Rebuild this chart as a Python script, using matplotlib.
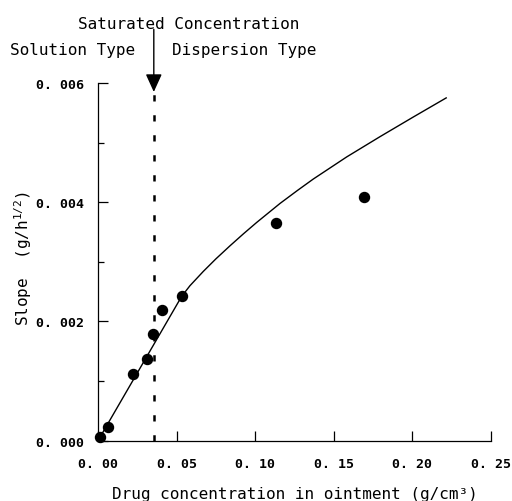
import matplotlib
matplotlib.use("Agg")
import matplotlib.pyplot as plt
from matplotlib.ticker import MultipleLocator, FixedLocator

# ---- data ----
conc = [0.001, 0.0062, 0.0225, 0.0314, 0.0348, 0.0405, 0.0532, 0.113, 0.169]
slope = [0.00006, 0.00023, 0.00112, 0.00137, 0.00179, 0.00219, 0.00242, 0.00366, 0.00409]

fit_x = [0.0, 0.0532, 0.0585, 0.067, 0.075, 0.084, 0.0925, 0.1009, 0.1158,
         0.127, 0.137, 0.1582, 0.1794, 0.2006, 0.2215]
fit_y = [0.0, 0.00242, 0.00260, 0.00284, 0.00305, 0.00327, 0.00347, 0.00366,
         0.00398, 0.00420, 0.00439, 0.00476, 0.00510, 0.00543, 0.00575]

sat_conc = 0.0355
arrow_tip = 0.00585
arrow_tail = 0.0069

x_ticks = [0.0, 0.05, 0.10, 0.15, 0.20, 0.25]
x_tick_labels = ["0. 00", "0. 05", "0. 10", "0. 15", "0. 20", "0. 25"]
y_ticks = [0.0, 0.002, 0.004, 0.006]
y_tick_labels = ["0. 000", "0. 002", "0. 004", "0. 006"]

plt.rcParams["font.family"] = ["DejaVu Sans Mono", "DejaVu Sans"]
plt.rcParams["mathtext.default"] = "regular"

W, H = 512, 502
fig = plt.figure(figsize=(W / 100, H / 100), dpi=100)
ax = fig.add_axes([98 / W, 1 - 441.7 / H, (491 - 98) / W, (441.7 - 84) / H])

ax.set_xlim(0, 0.25)
ax.set_ylim(0, 0.006)

for s in ["top", "right"]:
    ax.spines[s].set_visible(False)
for s in ["left", "bottom"]:
    ax.spines[s].set_linewidth(0.9)

# fitted curve
ax.plot(fit_x, fit_y, color="black", lw=1.0, zorder=2,
        solid_joinstyle="round")
# data points
ax.plot(conc, slope, "o", color="black", ms=7.2, zorder=3, clip_on=False)

# saturated concentration dashed line
ax.plot([sat_conc, sat_conc], [0, arrow_tip], color="black", lw=1.8,
        dashes=(2.5, 5.5), zorder=1)
ax.annotate("", xy=(sat_conc, arrow_tip), xytext=(sat_conc, arrow_tail),
            arrowprops=dict(arrowstyle="-|>,head_length=1.1,head_width=0.5",
                            mutation_scale=10, lw=1.0, color="black",
                            shrinkA=0, shrinkB=0),
            annotation_clip=False)

ax.xaxis.set_major_locator(FixedLocator(x_ticks))
ax.set_xticklabels(x_tick_labels)
ax.yaxis.set_major_locator(FixedLocator(y_ticks))
ax.set_yticklabels(y_tick_labels)
ax.yaxis.set_minor_locator(MultipleLocator(0.001))

ax.tick_params(axis="x", direction="in", length=7, width=0.9, pad=12,
               labelsize=9.5)
ax.tick_params(axis="y", which="major", direction="in", length=7, width=0.9,
               pad=10, labelsize=9.5)
ax.tick_params(axis="y", which="minor", direction="in", length=4, width=0.9)
for lab in ax.get_xticklabels() + ax.get_yticklabels():
    lab.set_fontweight("bold")

ax.set_xlabel("Drug concentration in ointment (g/cm³)", fontsize=11.5,
              labelpad=11)
ax.set_ylabel(r"Slope  (g/h$^{1/2}$)", fontsize=11.5, va="center",
              ha="center", rotation_mode="anchor")
ax.yaxis.set_label_coords(23 / W, 1 - 258 / H, transform=fig.transFigure)

fig.text(78 / W, 1 - 29.3 / H, "Saturated Concentration", fontsize=11.5,
         ha="left", va="baseline")
fig.text(10 / W, 1 - 54.5 / H, "Solution Type", fontsize=11.5,
         ha="left", va="baseline")
fig.text(172 / W, 1 - 54.5 / H, "Dispersion Type", fontsize=11.5,
         ha="left", va="baseline")

fig.savefig("out.png", dpi=100)
